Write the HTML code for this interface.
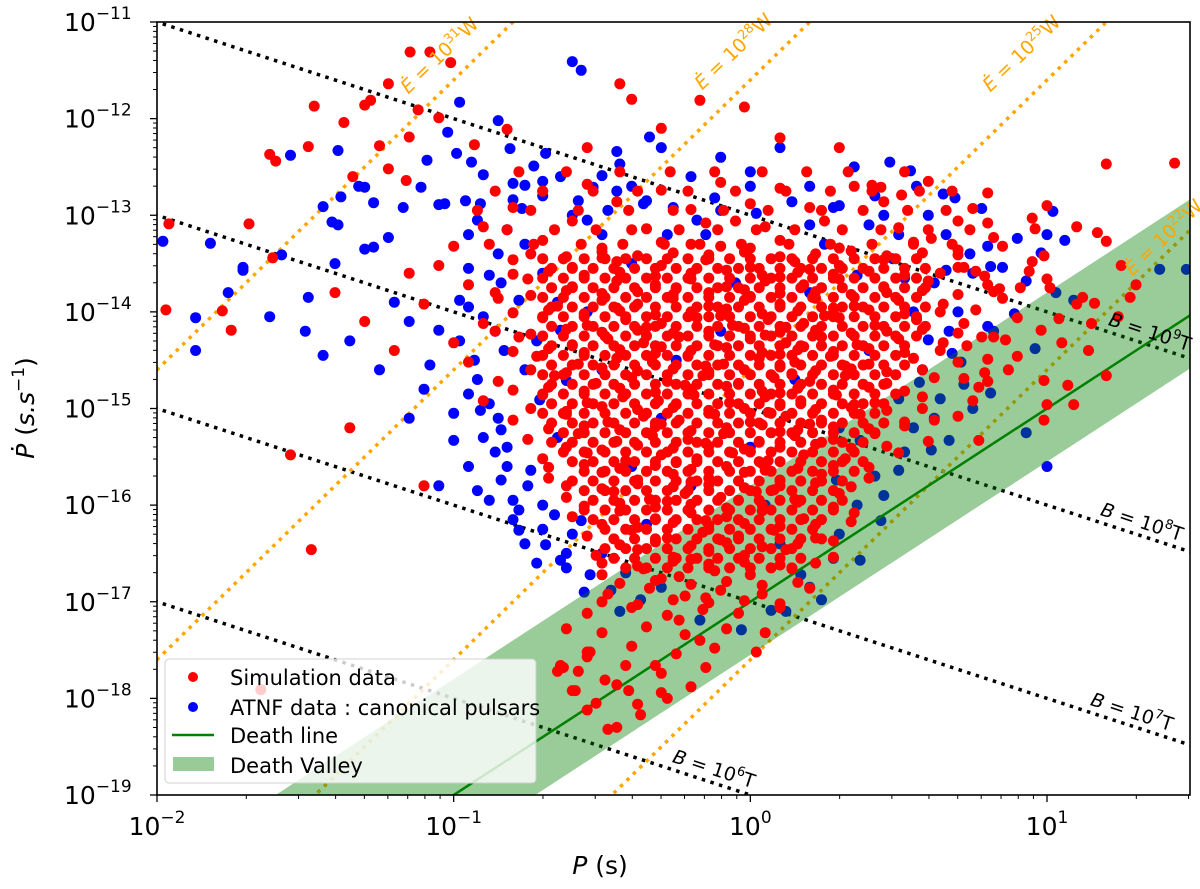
<!DOCTYPE html>
<html><head><meta charset="utf-8"><title>P-Pdot diagram</title>
<style>
html,body{margin:0;padding:0;background:#fff;width:1200px;height:889px;overflow:hidden;}
svg{display:block;font-family:"DejaVu Sans","Liberation Sans",sans-serif;}
</style></head>
<body>
<svg id="chart" width="1200" height="889" viewBox="0 0 1200 889" xmlns="http://www.w3.org/2000/svg">
<defs><clipPath id="plotclip"><rect x="157" y="22" width="1033" height="773"/></clipPath></defs>
<rect x="0" y="0" width="1200" height="889" fill="#fff"/>
<g id="plot" clip-path="url(#plotclip)"></g>
<g id="axes"></g>
<g id="legend">
  <rect x="165" y="659" width="371" height="124" rx="4" fill="#fff" fill-opacity="0.8" stroke="#d0d0d0"/>
  <circle cx="193" cy="677" r="5" fill="#ff0000"/>
  <text x="230" y="685" font-size="21">Simulation data</text>
  <circle cx="193" cy="707" r="5" fill="#0000ff"/>
  <text x="230" y="715" font-size="21">ATNF data : canonical pulsars</text>
  <line x1="172" y1="735" x2="214" y2="735" stroke="#008000" stroke-width="2.5"/>
  <text x="230" y="743" font-size="21">Death line</text>
  <rect x="173" y="757" width="41" height="14" fill="#98cb98"/>
  <text x="230" y="773" font-size="21">Death Valley</text>
</g>
</svg>
<script>
// ---- axis domains (log10) ----
const xDomain = [-2, 1.482];
const yDomain = [-19, -11];
const xTickExps = [-2, -1, 0, 1];
const yTickExps = [-11, -12, -13, -14, -15, -16, -17, -18, -19];
// ---- reference lines ----
const bFieldExps = [9, 8, 7, 6];          // B = 10^k T
const edotExps = [31, 28, 25, 22];        // Edot = 10^k W
const deathLine = [2, -17];               // slope, intercept (log space)
const valleyUpper = [2, -15.8];
const valleyLower = [2, -17.55];
// ---- ATNF data (logP, logPdot) ----
const atnfPoints = [
[-1.98,-13.27],[-1.55,-12.38],[-1.39,-12.33],[-1.38,-12.81],[-1.44,-12.91],[-1.32,-12.70],[-1.30,-12.71],[-1.27,-12.87],
[-1.41,-13.07],[-1.39,-13.10],[-1.82,-13.29],[-1.58,-13.41],[-1.71,-13.54],[-1.49,-13.85],[-1.40,-13.50],[-1.30,-13.35],
[-1.27,-13.33],[-1.22,-13.23],[-1.17,-12.92],[-1.11,-12.71],[-1.09,-12.43],[-0.98,-11.83],[-1.02,-12.14],[-0.99,-12.36],
[-0.85,-12.02],[-0.60,-11.41],[-0.57,-11.50],[-0.94,-12.45],[-0.90,-12.58],[-0.81,-12.31],[-0.69,-12.36],[-0.73,-12.49],
[-0.80,-12.67],[-0.76,-12.69],[-1.05,-12.89],[-1.03,-12.88],[-0.96,-12.85],[-0.91,-12.88],[-0.80,-12.84],[-0.77,-12.93],
[-0.34,-12.19],[-0.45,-12.34],[-0.44,-12.47],[-0.50,-12.59],[-0.53,-12.71],[-1.87,-14.40],[-1.71,-13.57],[-1.44,-14.45],
[-1.87,-14.06],[-1.76,-13.80],[-1.62,-14.05],[-1.50,-14.20],[-1.35,-14.30],[-1.25,-14.60],[-1.15,-14.10],[-1.20,-13.90],
[0.47,-12.45],[0.54,-12.54],[0.65,-12.78],[0.69,-12.82],[0.78,-12.93],[1.02,-12.96],[0.90,-13.24],[1.06,-13.26],[1.00,-13.20],
[0.80,-13.32],[0.81,-13.53],[0.85,-13.54],[0.98,-13.39],[0.93,-13.68],[0.89,-14.02],[0.80,-14.15],[1.38,-13.56],[1.09,-13.88],
[0.96,-14.38],[0.82,-14.20],[0.81,-14.84],[0.71,-14.52],[0.57,-14.73],[0.68,-14.43],[0.67,-14.20],[0.60,-14.29],[0.66,-13.57],
[0.52,-13.65],[1.47,-13.56],[0.93,-15.25],[1.00,-15.60],[1.03,-13.80],[0.75,-15.00],[0.62,-15.10],
[-0.93,-14.50],[-0.84,-15.74],[-0.78,-16.26],[-0.69,-16.41],[-0.91,-15.02],[-1.00,-15.33],[-0.88,-15.95],[-0.74,-15.64],
[-0.64,-16.57],[-0.54,-16.72],[-0.47,-16.88],[-0.37,-16.98],[-0.57,-16.16],[-0.84,-15.22],[-1.05,-14.19],[-0.98,-13.88],
[-0.83,-14.40],[-0.71,-14.91],[-0.78,-13.88],[-0.64,-14.19],[-0.62,-14.71],[-1.10,-14.80],[-0.95,-15.60],[-0.70,-16.00],
[-0.60,-16.30],[-0.50,-16.50],[-0.42,-16.70],[-0.30,-16.85],[-0.65,-15.30],[-0.88,-14.95],[-1.15,-15.10],[-1.05,-15.80],
[0.07,-17.09],[0.24,-16.98],[0.37,-16.57],[0.44,-16.16],[0.50,-15.64],[0.61,-15.43],[0.67,-15.33],[-0.17,-17.19],[-0.03,-17.29],
[0.17,-16.72],[0.29,-15.74],[0.37,-15.33],[0.30,-16.30],[0.45,-15.90],[0.55,-15.20],[0.12,-17.10],
[-0.70,-12.80],[-0.60,-13.00],[-0.40,-12.70],[-0.20,-12.60],[0.00,-12.55],[0.20,-12.70],[0.35,-12.50],[-0.10,-12.40],
[0.10,-12.30],[-0.30,-12.30],[-0.50,-13.20],[-0.85,-13.40],[-0.70,-13.60],[-0.95,-13.20],[0.60,-13.00],[0.40,-13.10],
[0.75,-13.60],[0.55,-14.00],[0.70,-14.00],[0.40,-14.40],[0.50,-14.90],[-0.40,-13.50],[-0.15,-13.20],[0.25,-13.30],
[-0.50,-14.60],[-0.30,-15.10],[-0.10,-14.20],[0.15,-14.70],[0.30,-15.20],[-0.20,-15.80],[0.05,-16.00],[-0.40,-15.60],
[-0.55,-14.00],[-0.25,-14.50],[0.00,-15.40],[0.20,-13.80],[-0.65,-13.90],[-0.35,-16.20],[0.10,-16.40],[-0.05,-13.70],
[-0.92,-13.05],[-0.82,-13.15],[-0.88,-13.62],[-0.76,-13.30],[-0.64,-12.60],[-0.58,-12.85],[-0.48,-12.95],[-0.36,-12.88],
[-0.26,-12.92],[-0.12,-12.82],[0.02,-12.98],[0.14,-12.86],[0.28,-12.92],[0.42,-12.80],[0.56,-12.70],[0.66,-13.20],
[0.74,-13.40],[0.62,-13.70],[0.48,-13.45],[0.36,-13.62],[-0.98,-14.30],[-0.92,-14.70],[-0.86,-15.45],[-0.80,-15.95],
[-0.76,-16.40],[-0.62,-16.65],[-0.56,-16.90],[-0.44,-17.10],[-0.95,-13.95],[-1.08,-14.55],[-1.00,-15.05],[-0.72,-14.30],
[0.58,-14.60],[0.52,-15.45],[0.42,-15.70],[0.36,-16.00],[0.28,-16.55],[0.20,-16.85],[0.64,-14.90],[0.72,-14.75],
[-0.90,-15.30],[-0.82,-15.60],[-0.80,-16.15],[-0.72,-16.60],[-0.66,-16.10],[-0.86,-14.20],[-0.84,-13.70],[-0.76,-14.60],
[-0.70,-12.65],[-0.35,-12.85],[0.00,-12.70],[0.30,-12.90],[-0.55,-13.05],[-0.18,-13.05],[0.20,-13.10],[0.50,-13.20],
[-0.95,-13.55],[-0.90,-14.05],[-0.95,-14.85],[-0.85,-15.10],[-0.82,-15.40],[-0.75,-15.80],[-0.70,-16.25],[-0.62,-16.50],
[-0.78,-16.05],[-0.92,-15.85],[-0.45,-12.75],[-0.10,-12.95],[0.45,-13.00],[-0.28,-13.20]
];
// ---- Simulation data (logP, logPdot) ----
const simPoints = [
[-1.147,-11.31],[-1.30,-11.86],[-1.47,-11.87],[-1.37,-12.04],[-1.62,-12.37],[-1.60,-12.44],[-1.49,-12.29],[-1.69,-13.09],
[-1.61,-13.44],[-1.28,-11.81],[-1.22,-11.64],[-1.08,-11.31],[-1.01,-11.42],[-1.12,-11.91],[-1.05,-11.99],[-1.15,-12.19],
[-1.25,-12.28],[-1.22,-12.52],[-1.34,-12.60],[-1.16,-12.64],[-0.44,-11.64],[-0.40,-11.80],[-0.82,-12.11],[-0.93,-12.27],
[-1.96,-13.09],[-1.97,-13.98],[-1.78,-13.99],[-1.48,-16.46],[-1.65,-17.91],[-1.75,-14.19],[-1.55,-15.48],[-1.40,-13.80],
[-1.30,-14.10],[-1.20,-14.40],[-1.35,-15.20],[-1.15,-13.60],[-1.10,-15.80],
[-0.17,-11.81],[-0.02,-11.88],[0.10,-12.20],[-0.30,-12.10],[0.30,-12.30],[-0.55,-12.30],
[1.43,-12.46],[1.20,-12.47],[1.17,-13.18],[1.28,-13.85],[1.12,-13.85],[1.16,-13.91],[1.04,-14.07],[1.24,-14.05],[1.14,-14.40],
[1.01,-13.75],[0.95,-13.03],[0.96,-13.14],[0.99,-13.42],[0.94,-13.58],[0.91,-13.75],[0.84,-13.76],[0.80,-12.77],[0.70,-13.06],
[0.82,-13.23],[0.79,-13.63],[0.86,-14.29],[0.78,-14.26],[0.80,-14.49],[0.79,-14.63],[0.80,-14.72],[0.77,-14.78],[0.72,-14.69],
[0.73,-14.35],[0.72,-13.54],[0.70,-13.36],[0.61,-13.24],[1.09,-14.96],[0.51,-12.79],[0.41,-12.69],[0.44,-12.71],
[0.99,-14.71],[1.00,-14.96],[0.87,-14.60],[0.99,-15.12],[0.62,-15.12],[0.77,-15.33],[1.07,-14.76],[0.98,-14.19],
[-0.65,-17.72],[-0.63,-17.68],[-0.55,-17.57],[-0.54,-17.52],[-0.64,-17.66],[-0.59,-17.92],[-0.49,-17.81],[-0.41,-17.92],
[-0.37,-18.17],[-0.32,-17.66],[-0.17,-17.40],[-0.24,-17.19],[-0.45,-18.30],[-0.52,-18.05],[-0.28,-18.00],
[-0.55,-12.68],[-0.30,-12.74],[-0.10,-12.66],[0.10,-12.72],[0.35,-12.70],[0.60,-12.65],[-0.70,-12.75],
[-0.80,-12.92],[-0.45,-12.86],[-0.20,-12.94],[0.00,-12.88],[0.20,-12.92],[0.45,-12.86],[0.75,-12.93],[1.00,-12.90],
[-0.90,-13.12],[-0.60,-13.06],[-0.35,-13.14],[-0.15,-13.08],[0.05,-13.12],[0.25,-13.06],[0.50,-13.13],[0.80,-13.08],[1.10,-13.12],[-0.05,-13.06],
[-1.00,-13.32],[-0.70,-13.26],[-0.50,-13.34],[-0.30,-13.28],[-0.10,-13.32],[0.10,-13.26],[0.30,-13.34],[0.55,-13.28],[0.85,-13.32],[1.20,-13.27],[-0.20,-13.30],[0.00,-13.34],
[-1.05,-13.52],[-0.80,-13.46],[-0.60,-13.54],[-0.45,-13.48],[-0.30,-13.52],[-0.15,-13.46],[0.00,-13.54],[0.15,-13.48],[0.30,-13.52],[0.45,-13.46],[0.70,-13.54],[0.95,-13.48],[1.25,-13.52],[-0.50,-13.44],[0.20,-13.56],
[-0.95,-13.72],[-0.75,-13.66],[-0.60,-13.74],[-0.45,-13.68],[-0.32,-13.72],[-0.20,-13.66],[-0.08,-13.74],[0.05,-13.68],[0.18,-13.72],[0.30,-13.66],[0.45,-13.74],[0.60,-13.68],[0.80,-13.72],[1.00,-13.66],[1.30,-13.72],[-0.25,-13.76],[0.10,-13.64],
[-1.10,-13.92],[-0.85,-13.86],[-0.65,-13.94],[-0.50,-13.88],[-0.38,-13.92],[-0.26,-13.86],[-0.14,-13.94],[-0.02,-13.88],[0.10,-13.92],[0.22,-13.86],[0.35,-13.94],[0.50,-13.88],[0.65,-13.92],[0.85,-13.86],[1.10,-13.92],[-0.45,-13.96],[0.00,-13.84],[0.28,-13.96],
[-0.90,-14.12],[-0.70,-14.06],[-0.55,-14.14],[-0.42,-14.08],[-0.30,-14.12],[-0.18,-14.06],[-0.06,-14.14],[0.06,-14.08],[0.18,-14.12],[0.30,-14.06],[0.42,-14.14],[0.56,-14.08],[0.72,-14.12],[0.90,-14.06],[1.15,-14.12],[-0.35,-14.16],[-0.10,-14.04],[0.12,-14.16],[0.25,-14.04],
[-1.00,-14.32],[-0.78,-14.26],[-0.60,-14.34],[-0.48,-14.28],[-0.36,-14.32],[-0.24,-14.26],[-0.12,-14.34],[0.00,-14.28],[0.12,-14.32],[0.24,-14.26],[0.36,-14.34],[0.50,-14.28],[0.65,-14.32],[0.82,-14.26],[1.05,-14.32],[-0.30,-14.36],[0.05,-14.24],[0.18,-14.36],
[-0.95,-14.52],[-0.72,-14.46],[-0.58,-14.54],[-0.45,-14.48],[-0.33,-14.52],[-0.21,-14.46],[-0.09,-14.54],[0.03,-14.48],[0.15,-14.52],[0.27,-14.46],[0.40,-14.54],[0.55,-14.48],[0.70,-14.52],[0.90,-14.46],[-0.15,-14.56],[0.10,-14.44],[0.32,-14.56],
[-0.85,-14.72],[-0.66,-14.66],[-0.52,-14.74],[-0.40,-14.68],[-0.28,-14.72],[-0.16,-14.66],[-0.04,-14.74],[0.08,-14.68],[0.20,-14.72],[0.32,-14.66],[0.46,-14.74],[0.62,-14.68],[0.80,-14.72],[1.20,-14.66],[-0.22,-14.76],[0.14,-14.64],
[-0.90,-14.92],[-0.70,-14.86],[-0.55,-14.94],[-0.43,-14.88],[-0.31,-14.92],[-0.19,-14.86],[-0.07,-14.94],[0.05,-14.88],[0.17,-14.92],[0.29,-14.86],[0.42,-14.94],[0.58,-14.88],[0.75,-14.92],[-0.25,-14.96],[0.10,-14.84],[0.35,-14.96],
[-0.80,-15.12],[-0.62,-15.06],[-0.48,-15.14],[-0.36,-15.08],[-0.24,-15.12],[-0.12,-15.06],[0.00,-15.14],[0.12,-15.08],[0.24,-15.12],[0.37,-15.06],[0.52,-15.14],[0.70,-15.08],[-0.30,-15.16],[0.06,-15.04],[0.20,-15.16],
[-0.75,-15.32],[-0.58,-15.26],[-0.45,-15.34],[-0.33,-15.28],[-0.21,-15.32],[-0.09,-15.26],[0.03,-15.34],[0.15,-15.28],[0.28,-15.32],[0.42,-15.26],[0.60,-15.34],[-0.15,-15.36],[0.10,-15.24],
[-0.70,-15.52],[-0.55,-15.46],[-0.42,-15.54],[-0.30,-15.48],[-0.18,-15.52],[-0.06,-15.46],[0.06,-15.54],[0.18,-15.48],[0.32,-15.52],[0.50,-15.46],[-0.25,-15.56],[0.00,-15.44],
[-0.68,-15.72],[-0.50,-15.66],[-0.38,-15.74],[-0.26,-15.68],[-0.14,-15.72],[-0.02,-15.66],[0.10,-15.74],[0.24,-15.68],[0.40,-15.72],[-0.20,-15.76],[0.05,-15.64],
[-0.62,-15.92],[-0.46,-15.86],[-0.34,-15.94],[-0.22,-15.88],[-0.10,-15.92],[0.02,-15.86],[0.15,-15.94],[0.30,-15.88],[-0.28,-15.96],[0.08,-15.84],
[-0.60,-16.12],[-0.44,-16.06],[-0.32,-16.14],[-0.20,-16.08],[-0.08,-16.12],[0.04,-16.06],[0.18,-16.14],[0.35,-16.08],[-0.15,-16.16],
[-0.55,-16.32],[-0.40,-16.26],[-0.28,-16.34],[-0.16,-16.28],[-0.04,-16.32],[0.08,-16.26],[0.22,-16.34],[-0.10,-16.36],
[-0.52,-16.52],[-0.38,-16.46],[-0.26,-16.54],[-0.14,-16.48],[-0.02,-16.52],[0.12,-16.46],[0.28,-16.54],[-0.20,-16.56],
[-0.50,-16.72],[-0.36,-16.66],[-0.24,-16.74],[-0.12,-16.68],[0.00,-16.72],[0.14,-16.66],[-0.30,-16.76],
[-0.48,-16.92],[-0.34,-16.86],[-0.22,-16.94],[-0.10,-16.88],[0.04,-16.92],[0.20,-16.86],[-0.15,-16.96],
[-0.55,-17.12],[-0.40,-17.06],[-0.28,-17.14],[-0.16,-17.08],[-0.04,-17.12],[0.10,-17.06],
[-0.50,-17.32],[-0.35,-17.26],[-0.22,-17.34],[-0.08,-17.28],[0.05,-17.32],[-0.62,-17.28],
[-0.55,-17.52],[-0.40,-17.46],[-0.25,-17.54],[-0.12,-17.48],[0.02,-17.52],
[-0.58,-17.72],[-0.42,-17.66],[-0.30,-17.74],[-0.15,-17.68],
[-0.60,-17.92],[-0.45,-17.86],[-0.30,-17.94],[-0.20,-17.88],
[-0.55,-18.12],[-0.38,-18.06],[-0.48,-18.32]
];
// ---- Simulation data, dense core (logP, logPdot) ----
const simCorePoints = [
[-0.74,-13.40],[-0.62,-13.43],[-0.50,-13.38],[-0.38,-13.42],[-0.26,-13.39],[-0.14,-13.41],[-0.02,-13.38],[0.10,-13.43],[0.22,-13.40],[0.34,-13.37],[0.46,-13.42],[0.58,-13.39],[0.70,-13.41],
[-0.80,-13.61],[-0.68,-13.58],[-0.56,-13.62],[-0.44,-13.59],[-0.32,-13.63],[-0.20,-13.60],[-0.08,-13.57],[0.04,-13.62],[0.16,-13.59],[0.28,-13.61],[0.40,-13.58],[0.52,-13.62],[0.64,-13.60],[0.76,-13.58],
[-0.86,-13.80],[-0.74,-13.83],[-0.62,-13.78],[-0.50,-13.81],[-0.38,-13.79],[-0.26,-13.82],[-0.14,-13.80],[-0.02,-13.77],[0.10,-13.81],[0.22,-13.79],[0.34,-13.82],[0.46,-13.80],[0.58,-13.78],[0.70,-13.82],[0.82,-13.79],
[-0.80,-14.01],[-0.68,-13.98],[-0.56,-14.02],[-0.44,-13.99],[-0.32,-14.03],[-0.20,-14.00],[-0.08,-13.97],[0.04,-14.02],[0.16,-13.99],[0.28,-14.01],[0.40,-13.98],[0.52,-14.02],[0.64,-14.00],[0.76,-13.98],
[-0.86,-14.20],[-0.74,-14.23],[-0.62,-14.18],[-0.50,-14.21],[-0.38,-14.19],[-0.26,-14.22],[-0.14,-14.20],[-0.02,-14.17],[0.10,-14.21],[0.22,-14.19],[0.34,-14.22],[0.46,-14.20],[0.58,-14.18],[0.70,-14.22],
[-0.80,-14.41],[-0.68,-14.38],[-0.56,-14.42],[-0.44,-14.39],[-0.32,-14.43],[-0.20,-14.40],[-0.08,-14.37],[0.04,-14.42],[0.16,-14.39],[0.28,-14.41],[0.40,-14.38],[0.52,-14.42],[0.64,-14.40],
[-0.74,-14.60],[-0.62,-14.63],[-0.50,-14.58],[-0.38,-14.61],[-0.26,-14.59],[-0.14,-14.62],[-0.02,-14.60],[0.10,-14.57],[0.22,-14.61],[0.34,-14.59],[0.46,-14.62],[0.58,-14.60],
[-0.80,-14.81],[-0.68,-14.78],[-0.56,-14.82],[-0.44,-14.79],[-0.32,-14.83],[-0.20,-14.80],[-0.08,-14.77],[0.04,-14.82],[0.16,-14.79],[0.28,-14.81],[0.40,-14.78],[0.52,-14.82],
[-0.74,-15.00],[-0.62,-15.03],[-0.50,-14.98],[-0.38,-15.01],[-0.26,-14.99],[-0.14,-15.02],[-0.02,-15.00],[0.10,-14.97],[0.22,-15.01],[0.34,-14.99],[0.46,-15.02],[0.58,-15.00],
[-0.68,-15.21],[-0.56,-15.18],[-0.44,-15.22],[-0.32,-15.19],[-0.20,-15.23],[-0.08,-15.20],[0.04,-15.17],[0.16,-15.22],[0.28,-15.19],[0.40,-15.21],[0.52,-15.18],
[-0.62,-15.40],[-0.50,-15.43],[-0.38,-15.38],[-0.26,-15.41],[-0.14,-15.39],[-0.02,-15.42],[0.10,-15.40],[0.22,-15.37],[0.34,-15.41],[0.46,-15.39],
[-0.68,-15.61],[-0.56,-15.58],[-0.44,-15.62],[-0.32,-15.59],[-0.20,-15.63],[-0.08,-15.60],[0.04,-15.57],[0.16,-15.62],[0.28,-15.59],[0.40,-15.61],
[-0.62,-15.80],[-0.50,-15.83],[-0.38,-15.78],[-0.26,-15.81],[-0.14,-15.79],[-0.02,-15.82],[0.10,-15.80],[0.22,-15.77],[0.34,-15.81],
[-0.56,-16.01],[-0.44,-15.98],[-0.32,-16.02],[-0.20,-15.99],[-0.08,-16.03],[0.04,-16.00],[0.16,-15.97],[0.28,-16.02],
[-0.50,-16.20],[-0.38,-16.23],[-0.26,-16.18],[-0.14,-16.21],[-0.02,-16.19],[0.10,-16.22],[0.22,-16.20],[0.34,-16.17],
[-0.44,-16.41],[-0.32,-16.38],[-0.20,-16.42],[-0.08,-16.39],[0.04,-16.43],[0.16,-16.40],[0.28,-16.37],
[-0.50,-16.60],[-0.38,-16.63],[-0.26,-16.58],[-0.14,-16.61],[-0.02,-16.59],[0.10,-16.62],[0.22,-16.60],
[-0.44,-16.81],[-0.32,-16.78],[-0.20,-16.82],[-0.08,-16.79],[0.04,-16.83],[0.16,-16.80],
[-0.50,-17.00],[-0.38,-17.03],[-0.26,-16.98],[-0.14,-17.01],[-0.02,-16.99],[0.10,-17.02]
];
// ---- Simulation data, densest band: one logPdot per row, logP values per row ----
const simFillPdot = [-13.45,-13.55,-13.65,-13.75,-13.85,-13.95,-14.05,-14.15,-14.25,-14.35,-14.45,-14.55,-14.65,-14.75,-14.85,-14.95,
-15.05,-15.15,-15.25,-15.35,-15.45,-15.55,-15.65,-15.75,-15.85,-15.95,-16.05,-16.15,-16.25,-16.35,-16.45,-16.55,-16.65];
const simFillLogP = [
[-0.70,-0.63,-0.56,-0.49,-0.42,-0.35,-0.28,-0.21,-0.14,-0.07,0.00,0.07,0.14,0.21,0.28,0.35,0.42,0.49,0.56],
[-0.67,-0.60,-0.53,-0.46,-0.39,-0.32,-0.25,-0.18,-0.11,-0.04,0.03,0.10,0.17,0.24,0.31,0.38,0.45,0.52,0.59],
[-0.70,-0.63,-0.56,-0.49,-0.42,-0.35,-0.28,-0.21,-0.14,-0.07,0.00,0.07,0.14,0.21,0.28,0.35,0.42,0.49,0.56],
[-0.67,-0.60,-0.53,-0.46,-0.39,-0.32,-0.25,-0.18,-0.11,-0.04,0.03,0.10,0.17,0.24,0.31,0.38,0.45,0.52,0.59],
[-0.70,-0.63,-0.56,-0.49,-0.42,-0.35,-0.28,-0.21,-0.14,-0.07,0.00,0.07,0.14,0.21,0.28,0.35,0.42,0.49,0.56],
[-0.67,-0.60,-0.53,-0.46,-0.39,-0.32,-0.25,-0.18,-0.11,-0.04,0.03,0.10,0.17,0.24,0.31,0.38,0.45,0.52,0.59],
[-0.70,-0.63,-0.56,-0.49,-0.42,-0.35,-0.28,-0.21,-0.14,-0.07,0.00,0.07,0.14,0.21,0.28,0.35,0.42,0.49,0.56],
[-0.67,-0.60,-0.53,-0.46,-0.39,-0.32,-0.25,-0.18,-0.11,-0.04,0.03,0.10,0.17,0.24,0.31,0.38,0.45,0.52,0.59],
[-0.70,-0.63,-0.56,-0.49,-0.42,-0.35,-0.28,-0.21,-0.14,-0.07,0.00,0.07,0.14,0.21,0.28,0.35,0.42,0.49,0.56],
[-0.67,-0.60,-0.53,-0.46,-0.39,-0.32,-0.25,-0.18,-0.11,-0.04,0.03,0.10,0.17,0.24,0.31,0.38,0.45,0.52],
[-0.70,-0.63,-0.56,-0.49,-0.42,-0.35,-0.28,-0.21,-0.14,-0.07,0.00,0.07,0.14,0.21,0.28,0.35,0.42,0.49],
[-0.67,-0.60,-0.53,-0.46,-0.39,-0.32,-0.25,-0.18,-0.11,-0.04,0.03,0.10,0.17,0.24,0.31,0.38,0.45,0.52],
[-0.70,-0.63,-0.56,-0.49,-0.42,-0.35,-0.28,-0.21,-0.14,-0.07,0.00,0.07,0.14,0.21,0.28,0.35,0.42,0.49],
[-0.67,-0.60,-0.53,-0.46,-0.39,-0.32,-0.25,-0.18,-0.11,-0.04,0.03,0.10,0.17,0.24,0.31,0.38,0.45],
[-0.70,-0.63,-0.56,-0.49,-0.42,-0.35,-0.28,-0.21,-0.14,-0.07,0.00,0.07,0.14,0.21,0.28,0.35,0.42,0.49],
[-0.67,-0.60,-0.53,-0.46,-0.39,-0.32,-0.25,-0.18,-0.11,-0.04,0.03,0.10,0.17,0.24,0.31,0.38,0.45],
[-0.70,-0.63,-0.56,-0.49,-0.42,-0.35,-0.28,-0.21,-0.14,-0.07,0.00,0.07,0.14,0.21,0.28,0.35,0.42],
[-0.67,-0.60,-0.53,-0.46,-0.39,-0.32,-0.25,-0.18,-0.11,-0.04,0.03,0.10,0.17,0.24,0.31,0.38,0.45],
[-0.63,-0.56,-0.49,-0.42,-0.35,-0.28,-0.21,-0.14,-0.07,0.00,0.07,0.14,0.21,0.28,0.35,0.42],
[-0.67,-0.60,-0.53,-0.46,-0.39,-0.32,-0.25,-0.18,-0.11,-0.04,0.03,0.10,0.17,0.24,0.31,0.38],
[-0.63,-0.56,-0.49,-0.42,-0.35,-0.28,-0.21,-0.14,-0.07,0.00,0.07,0.14,0.21,0.28,0.35],
[-0.60,-0.53,-0.46,-0.39,-0.32,-0.25,-0.18,-0.11,-0.04,0.03,0.10,0.17,0.24,0.31,0.38],
[-0.56,-0.49,-0.42,-0.35,-0.28,-0.21,-0.14,-0.07,0.00,0.07,0.14,0.21,0.28,0.35],
[-0.60,-0.53,-0.46,-0.39,-0.32,-0.25,-0.18,-0.11,-0.04,0.03,0.10,0.17,0.24,0.31],
[-0.56,-0.49,-0.42,-0.35,-0.28,-0.21,-0.14,-0.07,0.00,0.07,0.14,0.21,0.28],
[-0.53,-0.46,-0.39,-0.32,-0.25,-0.18,-0.11,-0.04,0.03,0.10,0.17,0.24,0.31],
[-0.56,-0.49,-0.42,-0.35,-0.28,-0.21,-0.14,-0.07,0.00,0.07,0.14,0.21,0.28],
[-0.53,-0.46,-0.39,-0.32,-0.25,-0.18,-0.11,-0.04,0.03,0.10,0.17,0.24],
[-0.49,-0.42,-0.35,-0.28,-0.21,-0.14,-0.07,0.00,0.07,0.14,0.21],
[-0.46,-0.39,-0.32,-0.25,-0.18,-0.11,-0.04,0.03,0.10,0.17,0.24],
[-0.49,-0.42,-0.35,-0.28,-0.21,-0.14,-0.07,0.00,0.07,0.14],
[-0.46,-0.39,-0.32,-0.25,-0.18,-0.11,-0.04,0.03,0.10,0.17],
[-0.42,-0.35,-0.28,-0.21,-0.14,-0.07,0.00,0.07,0.14]
];
// ---- Simulation data, upper band rows ----
const simUpperPdot = [-12.55, -12.75, -12.95, -13.15, -13.30];
const simUpperLogP = [
[-0.78,-0.62,-0.44,-0.27,-0.12,0.04,0.19,0.33,0.52],
[-0.86,-0.70,-0.53,-0.38,-0.21,-0.05,0.12,0.27,0.41,0.57,0.68],
[-0.92,-0.74,-0.58,-0.41,-0.26,-0.09,0.06,0.24,0.38,0.53,0.66],
[-0.82,-0.66,-0.52,-0.40,-0.24,-0.11,0.02,0.15,0.31,0.44,0.60,0.74],
[-0.88,-0.73,-0.57,-0.43,-0.29,-0.17,-0.03,0.13,0.27,0.41,0.55,0.68]
];

const PL = 157, PR = 1190, PT = 22, PB = 795;
function xPix(lp){ return PL + (lp - xDomain[0]) / (xDomain[1] - xDomain[0]) * (PR - PL); }
function yPix(lpd){ return PT + (yDomain[1] - lpd) / (yDomain[1] - yDomain[0]) * (PB - PT); }
const NS = 'http://www.w3.org/2000/svg';
function mk(tag, attrs, parent){ const e = document.createElementNS(NS, tag); for (const k in attrs) e.setAttribute(k, attrs[k]); parent.appendChild(e); return e; }
const plot = document.getElementById('plot');
const axes = document.getElementById('axes');
const xa = xDomain[0] - 0.5, xb = xDomain[1] + 0.5;

bFieldExps.forEach(k => {
  const f = lp => -13 - lp + 2 * (k - 9);
  const l = mk('line', {x1: xPix(xa), y1: yPix(f(xa)), x2: xPix(xb), y2: yPix(f(xb)), stroke: '#000', 'stroke-width': 3.5, 'stroke-dasharray': '3.5 5.5'}, plot);
  
  
});
edotExps.forEach(k => {
  const f = lp => 3 * lp + k - 39.6;
  const l = mk('line', {x1: xPix(xa), y1: yPix(f(xa)), x2: xPix(xb), y2: yPix(f(xb)), stroke: '#ffa500', 'stroke-width': 3.5, 'stroke-dasharray': '3.5 5.5'}, plot);
  
  
});
atnfPoints.forEach(p => {
  const c = mk('circle', {cx: xPix(p[0]).toFixed(1), cy: yPix(p[1]).toFixed(1), r: 5.5, fill: '#0000ff'}, plot);
  
  
});
{
  const up = lp => valleyUpper[0] * lp + valleyUpper[1];
  const lo = lp => valleyLower[0] * lp + valleyLower[1];
  const pts = [[xa, up(xa)], [xb, up(xb)], [xb, lo(xb)], [xa, lo(xa)]].map(p => xPix(p[0]) + ',' + yPix(p[1])).join(' ');
  const v = mk('polygon', {points: pts, fill: '#008000', 'fill-opacity': 0.4}, plot);
  
  
  const d = lp => deathLine[0] * lp + deathLine[1];
  const dl = mk('line', {x1: xPix(xa), y1: yPix(d(xa)), x2: xPix(xb), y2: yPix(d(xb)), stroke: '#008000', 'stroke-width': 2.5}, plot);
  
  
}
simPoints.concat(simCorePoints).forEach(p => {
  const c = mk('circle', {cx: xPix(p[0]).toFixed(1), cy: yPix(p[1]).toFixed(1), r: 5.5, fill: '#ff0000'}, plot);
  
  
});
function drawRows(pdots, rows){
  pdots.forEach((pd, i) => {
    rows[i].forEach(lp => {
      const c = mk('circle', {cx: xPix(lp).toFixed(1), cy: yPix(pd).toFixed(1), r: 5.5, fill: '#ff0000'}, plot);
      
      
    });
  });
}
drawRows(simFillPdot, simFillLogP);
drawRows(simUpperPdot, simUpperLogP);

function label(x, y, ang, color, base, exp, unit, name){
  const t = mk('text', {x: x, y: y, 'font-size': 19, fill: color, transform: 'rotate(' + ang + ' ' + x + ' ' + y + ')', 'text-anchor': 'middle'}, axes);
  
  
  const a = mk('tspan', {'font-style': 'italic'}, t); a.textContent = base;
  const b = mk('tspan', {}, t); b.textContent = ' = 10';
  const c = mk('tspan', {dy: -8, 'font-size': 13}, t); c.textContent = exp;
  const d = mk('tspan', {dy: 8}, t); d.textContent = unit;
}
label(1148, 338, 18, '#000', 'B', '9', 'T', 'b-label-9');
label(1140, 528, 18, '#000', 'B', '8', 'T', 'b-label-8');
label(1130, 718, 18, '#000', 'B', '7', 'T', 'b-label-7');
label(712, 775, 18, '#000', 'B', '6', 'T', 'b-label-6');
label(444, 60, -44, '#ffa500', 'Ė', '31', 'W', 'edot-label-31');
label(738, 56, -44, '#ffa500', 'Ė', '28', 'W', 'edot-label-28');
label(1026, 58, -44, '#ffa500', 'Ė', '25', 'W', 'edot-label-25');
label(1168, 242, -44, '#ffa500', 'Ė', '22', 'W', 'edot-label-22');

const fr = mk('rect', {x: PL, y: PT, width: PR - PL, height: PB - PT, fill: 'none', stroke: '#000', 'stroke-width': 1.6}, axes);



xTickExps.forEach(e => {
  const x = xPix(e);
  const t = mk('line', {x1: x, y1: PB, x2: x, y2: PB + 7, stroke: '#000', 'stroke-width': 1.3}, axes);
  
  
  const tx = mk('text', {x: x, y: PB + 40, 'font-size': 25, 'text-anchor': 'middle'}, axes);
  
  
  const a = mk('tspan', {}, tx); a.textContent = '10';
  const b = mk('tspan', {dy: -12, 'font-size': 17}, tx); b.textContent = (e < 0 ? '\u2212' : '') + Math.abs(e);
  for (let m = 2; m <= 9; m++) {
    const lm = e + Math.log10(m);
    if (lm > xDomain[1]) break;
    const mx = xPix(lm);
    const mt = mk('line', {x1: mx, y1: PB, x2: mx, y2: PB + 4, stroke: '#000', 'stroke-width': 1}, axes);
    
    
  }
});
yTickExps.forEach(e => {
  const y = yPix(e);
  const t = mk('line', {x1: PL - 7, y1: y, x2: PL, y2: y, stroke: '#000', 'stroke-width': 1.3}, axes);
  
  
  const tx = mk('text', {x: 64, y: y + 9, 'font-size': 25}, axes);
  
  
  const a = mk('tspan', {}, tx); a.textContent = '10';
  const b = mk('tspan', {dy: -12, 'font-size': 17}, tx); b.textContent = '\u2212' + Math.abs(e);
  if (e > yDomain[0]) {
    for (let m = 2; m <= 9; m++) {
      const my = yPix(e - 1 + Math.log10(m));
      const mt = mk('line', {x1: PL - 4, y1: my, x2: PL, y2: my, stroke: '#000', 'stroke-width': 1}, axes);
      
      
    }
  }
});
const xt = mk('text', {x: 600, y: 874, 'font-size': 25, 'text-anchor': 'middle'}, axes);


mk('tspan', {'font-style': 'italic'}, xt).textContent = 'P';
mk('tspan', {}, xt).textContent = ' (s)';
const yt = mk('text', {x: 34, y: 408, 'font-size': 25, 'text-anchor': 'middle', transform: 'rotate(-90 34 408)'}, axes);


mk('tspan', {'font-style': 'italic'}, yt).textContent = 'Ṗ';
mk('tspan', {}, yt).textContent = ' (';
mk('tspan', {'font-style': 'italic'}, yt).textContent = 's.s';
mk('tspan', {dy: -10, 'font-size': 17}, yt).textContent = '\u22121';
mk('tspan', {dy: 10}, yt).textContent = ')';
document.getElementById('chart').appendChild(document.getElementById('legend'));
</script>
</body></html>
